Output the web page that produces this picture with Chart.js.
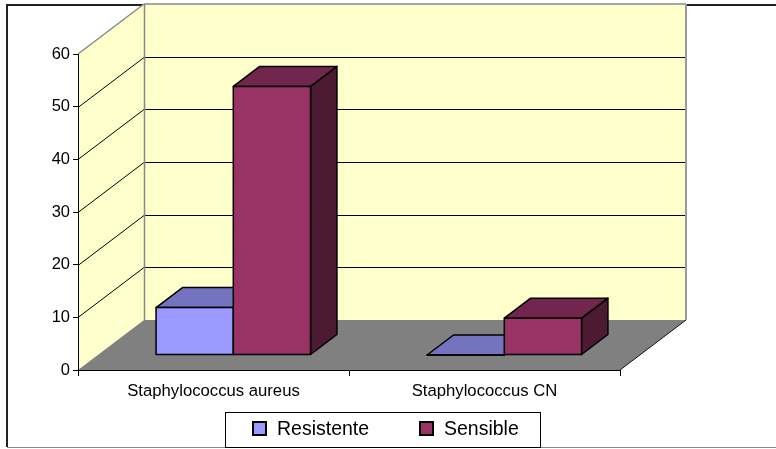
<!DOCTYPE html>
<html>
<head>
<meta charset="utf-8">
<script src="https://cdn.jsdelivr.net/npm/chart.js@4.4.1/dist/chart.umd.min.js"></script>
<style>
  html, body { margin: 0; padding: 0; background: #fff; }
  canvas { display: block; }
</style>
</head>
<body>
<canvas id="c" width="776" height="449"></canvas>
<script>
// Categories and series values
const categories = ['Staphylococcus aureus', 'Staphylococcus CN'];
const resistente = [9, 0];
const sensible = [51, 7];
const yTicks = [0, 10, 20, 30, 40, 50, 60];

const FONT = "'Liberation Sans', Arial, sans-serif";

// Oblique depth vector of the 3D box (wall depth)
const DEPTH_X = 66;
const DEPTH_Y = -50;
// Bars sit between these fractions of the depth
const BAR_D0 = 0.3;
const BAR_D1 = 0.7;

const faceColors = [
  { front: '#9999FF', top: '#7373BF', side: '#5C5C99' },
  { front: '#993366', top: '#73264D', side: '#4D1A33' }
];

function poly(ctx, pts, fill, stroke, lw) {
  ctx.beginPath();
  ctx.moveTo(pts[0][0], pts[0][1]);
  for (let i = 1; i < pts.length; i++) ctx.lineTo(pts[i][0], pts[i][1]);
  ctx.closePath();
  if (fill) { ctx.fillStyle = fill; ctx.fill(); }
  if (stroke) { ctx.strokeStyle = stroke; ctx.lineWidth = lw || 1; ctx.stroke(); }
}

function line(ctx, x1, y1, x2, y2, color, lw) {
  ctx.beginPath();
  ctx.moveTo(x1, y1);
  ctx.lineTo(x2, y2);
  ctx.strokeStyle = color;
  ctx.lineWidth = lw || 1;
  ctx.stroke();
}

// Walls, floor and gridlines of the 3D frame
const frame3d = {
  id: 'frame3d',
  beforeDraw(chart) {
    const ctx = chart.ctx;
    const xs = chart.scales.x, ys = chart.scales.y;
    const x0 = xs.left, x1 = xs.right;
    const yb = ys.getPixelForValue(0), yt = ys.getPixelForValue(60);
    ctx.save();
    // outer chart border
    line(ctx, 7, 5, 776, 5, '#222', 2);
    line(ctx, 7, 4, 7, 447, '#222', 2);
    line(ctx, 7, 447.5, 776, 447.5, '#888', 1);

    // back wall
    poly(ctx, [[x0 + DEPTH_X, yt + DEPTH_Y], [x1 + DEPTH_X, yt + DEPTH_Y],
               [x1 + DEPTH_X, yb + DEPTH_Y], [x0 + DEPTH_X, yb + DEPTH_Y]], '#FFFFCC');
    // left wall
    poly(ctx, [[x0, yb], [x0, yt], [x0 + DEPTH_X, yt + DEPTH_Y], [x0 + DEPTH_X, yb + DEPTH_Y]], '#FFFFCC');
    // floor
    poly(ctx, [[x0, yb], [x1, yb], [x1 + DEPTH_X, yb + DEPTH_Y], [x0 + DEPTH_X, yb + DEPTH_Y]], '#808080');

    // gridlines
    yTicks.forEach(v => {
      if (v === 0 || v === 60) return;
      const y = Math.round(ys.getPixelForValue(v)) + 0.5;
      line(ctx, x0, y, x0 + DEPTH_X, y + DEPTH_Y, '#000', 1);
      line(ctx, x0 + DEPTH_X, y + DEPTH_Y, x1 + DEPTH_X, y + DEPTH_Y, '#000', 1);
    });

    // wall edges
    line(ctx, x0, yt, x0 + DEPTH_X, yt + DEPTH_Y, '#888', 1.5);
    line(ctx, x0 + DEPTH_X, yt + DEPTH_Y, x1 + DEPTH_X, yt + DEPTH_Y, '#888', 1.5);
    line(ctx, x0 + DEPTH_X + 0.5, yt + DEPTH_Y, x0 + DEPTH_X + 0.5, yb + DEPTH_Y, '#888', 1.5);
    line(ctx, x1 + DEPTH_X, yt + DEPTH_Y, x1 + DEPTH_X, yb + DEPTH_Y, '#999', 2);
    line(ctx, x1, yb, x1 + DEPTH_X, yb + DEPTH_Y, '#111', 1);
    ctx.restore();
  },
  // Bars drawn as 3D boxes from the library's bar elements
  beforeDatasetsDraw(chart) {
    const ctx = chart.ctx;
    const ox = DEPTH_X * BAR_D0, oy = DEPTH_Y * BAR_D0;
    const bx = DEPTH_X * (BAR_D1 - BAR_D0), by = DEPTH_Y * (BAR_D1 - BAR_D0);
    const metas = chart.data.datasets.map((d, i) => chart.getDatasetMeta(i));
    ctx.save();
    ctx.lineJoin = 'round';
    for (let c = 0; c < categories.length; c++) {
      metas.forEach((meta, di) => {
        const el = meta.data[c];
        const col = faceColors[di];
        const L = el.x - el.width / 2 + ox, R = el.x + el.width / 2 + ox;
        const T = el.y + oy, B = el.base + oy;
        // side
        poly(ctx, [[R, T], [R + bx, T + by], [R + bx, B + by], [R, B]], col.side, '#000', 1.5);
        // top
        poly(ctx, [[L, T], [R, T], [R + bx, T + by], [L + bx, T + by]], col.top, '#000', 1.5);
        // front
        poly(ctx, [[L, T], [R, T], [R, B], [L, B]], col.front, '#000', 1.5);
      });
    }
    ctx.restore();
    return false;
  },
  // Legend box
  afterDraw(chart) {
    const ctx = chart.ctx;
    ctx.save();
    ctx.strokeStyle = '#000';
    ctx.lineWidth = 1;
    ctx.strokeRect(225.5, 412.5, 315, 35);
    ctx.font = '19.5px ' + FONT;
    ctx.textBaseline = 'middle';
    ctx.fillStyle = '#000';
    const items = [{ x: 253 }, { x: 420 }];
    chart.data.datasets.forEach((ds, i) => {
      const x = items[i].x;
      ctx.fillStyle = ds.backgroundColor;
      ctx.fillRect(x, 422, 13, 13);
      ctx.strokeStyle = '#000';
      ctx.lineWidth = 2;
      ctx.strokeRect(x, 422, 13, 13);
      ctx.fillStyle = '#000';
      ctx.fillText(ds.label, x + 24, 430);
    });
    ctx.restore();
  }
};

new Chart(document.getElementById('c'), {
  type: 'bar',
  data: {
    labels: categories,
    datasets: [
      { label: 'Resistente', data: resistente, backgroundColor: '#9999FF' },
      { label: 'Sensible', data: sensible, backgroundColor: '#993366' }
    ]
  },
  options: {
    responsive: false,
    animation: false,
    devicePixelRatio: 1,
    layout: { padding: { left: 0, top: 54, right: 156, bottom: 0 } },
    datasets: { bar: { categoryPercentage: 0.57, barPercentage: 1 } },
    plugins: { legend: { display: false }, tooltip: { enabled: false } },
    scales: {
      x: {
        afterFit(scale) { scale.height = 79; },
        grid: { offset: true, drawOnChartArea: false, drawTicks: true, tickLength: 6, color: '#000' },
        border: { color: '#000', width: 1 },
        ticks: { color: '#000', font: { family: FONT, size: 16.7 }, maxRotation: 0, padding: 5 }
      },
      y: {
        min: 0, max: 60,
        afterFit(scale) { scale.width = 78; },
        afterBuildTicks(scale) { scale.ticks = yTicks.map(v => ({ value: v })); },
        grid: { drawOnChartArea: false, drawTicks: true, tickLength: 5, color: '#000' },
        border: { color: '#000', width: 1 },
        ticks: { color: '#000', font: { family: FONT, size: 16.5 }, padding: 3 }
      }
    }
  },
  plugins: [frame3d]
});
</script>
</body>
</html>
